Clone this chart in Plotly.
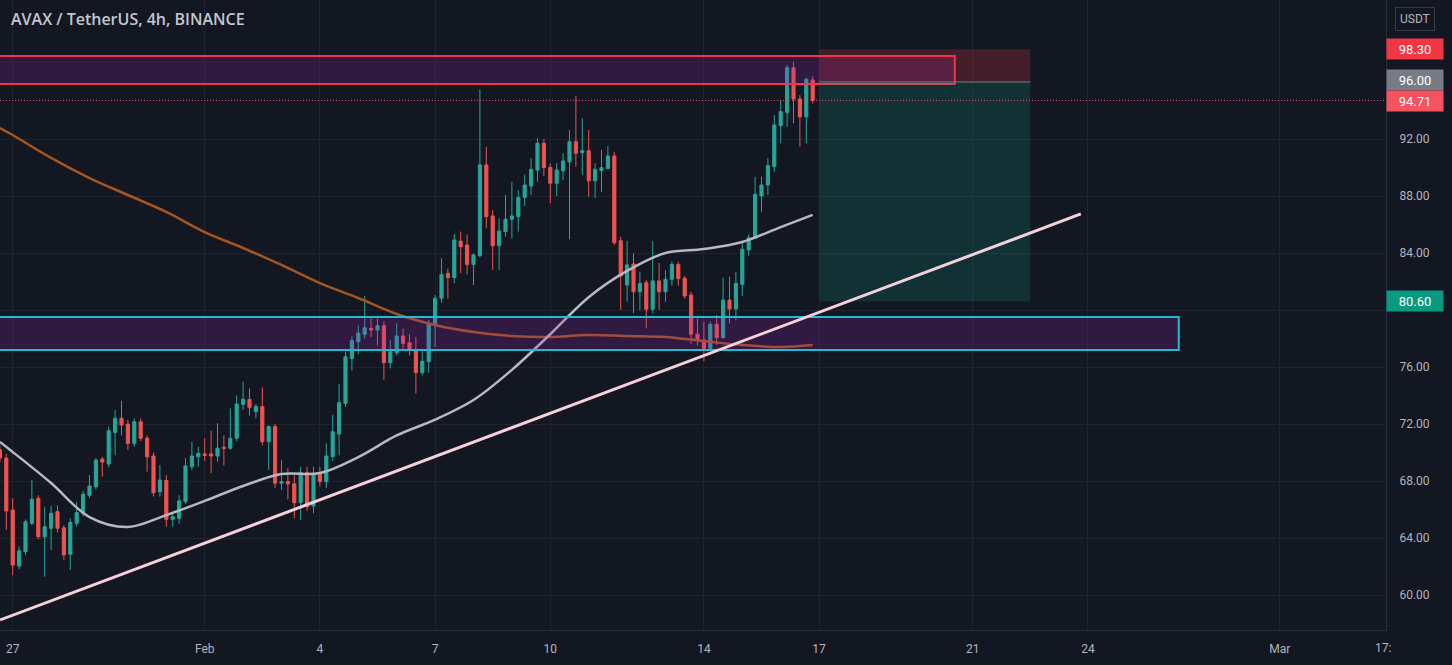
import plotly.graph_objects as go
from datetime import datetime, timedelta

# ---------------- data ----------------
first_bar = datetime(2022, 1, 26, 16, 0)   # 4h bars
opens = [70.2, 69.61, 65.96, 62.03, 63.04, 65.03, 66.79, 64.09, 64.68, 65.85, 64.72, 62.86, 65.03, 65.73, 67.0, 67.6,
         69.54, 69.19, 71.4, 72.4, 72.0, 70.64, 72.16, 71.0, 69.75, 67.25, 68.03, 65.31, 65.38, 66.55, 69.0, 69.7,
         69.9, 69.9, 69.75, 70.37, 70.3, 71.0, 73.38, 73.73, 72.87, 73.22, 70.76, 71.82, 67.84, 67.96, 67.8, 66.48,
         68.58, 66.25, 68.47, 67.96, 69.72, 71.3, 73.45, 76.6, 77.78, 78.3, 78.72, 78.6, 78.9, 76.3, 77.0, 78.18,
         77.7, 77.15, 75.6, 76.37, 78.95, 80.82, 82.57, 82.27, 84.84, 84.56, 83.2, 83.81, 90.18, 86.6, 84.51, 85.5,
         86.37, 86.55, 87.9, 88.7, 89.82, 91.7, 90.0, 88.9, 89.77, 90.4, 91.81, 91.04, 91.18, 89.07, 89.78, 89.92,
         90.81, 84.86, 81.75, 83.23, 81.28, 81.92, 80.05, 82.04, 81.28, 82.15, 83.2, 82.23, 81.05, 78.3, 77.9, 77.31,
         79.0, 78.06, 80.7, 80.07, 81.8, 84.21, 85.03, 88.0, 88.77, 90.06, 92.93, 93.87, 97.0, 94.81, 93.56, 96.14]
highs = [70.5, 69.9, 66.8, 63.4, 65.3, 68.07, 67.0, 66.2, 66.27, 66.27, 64.9, 65.38, 66.55, 67.3, 68.42, 69.6,
         69.7, 71.82, 72.98, 73.63, 72.28, 72.4, 72.4, 71.2, 70.0, 69.12, 68.42, 65.75, 67.0, 69.6, 70.76, 70.4,
         71.0, 71.53, 72.05, 71.2, 73.1, 74.0, 74.97, 74.5, 73.4, 74.57, 71.9, 72.0, 69.47, 68.9, 68.42, 69.0,
         69.0, 69.0, 69.0, 70.64, 72.63, 74.8, 77.1, 78.13, 78.9, 80.98, 79.4, 79.4, 79.2, 77.9, 79.07, 78.7,
         78.3, 78.1, 77.1, 79.3, 81.05, 83.63, 82.9, 85.33, 85.5, 85.3, 83.98, 95.49, 91.46, 87.0, 86.44, 88.07,
         89.0, 88.4, 89.5, 90.65, 92.05, 92.0, 90.3, 90.3, 91.0, 92.63, 95.02, 93.45, 92.63, 90.3, 91.23, 91.5,
         91.1, 85.14, 84.86, 83.98, 82.69, 82.1, 84.84, 83.3, 82.8, 83.4, 83.4, 82.4, 81.28, 79.4, 79.18, 79.2,
         79.65, 82.27, 82.34, 82.69, 84.7, 85.3, 89.35, 89.35, 90.65, 93.68, 94.74, 97.19, 97.42, 95.09, 96.3, 96.4]
lows = [69.3, 64.56, 61.4, 61.8, 62.8, 64.9, 63.9, 61.28, 63.16, 64.4, 62.46, 61.75, 64.8, 65.5, 66.8, 67.4,
        68.3, 68.96, 69.8, 71.2, 70.18, 70.4, 70.8, 68.66, 66.9, 66.9, 64.79, 64.8, 65.0, 66.4, 68.77, 69.0,
        69.4, 68.54, 69.35, 69.1, 70.2, 70.8, 72.98, 72.6, 72.4, 70.5, 68.77, 67.49, 67.37, 66.7, 65.38, 65.26,
        65.9, 65.73, 67.6, 67.5, 69.4, 69.8, 73.2, 75.74, 76.9, 78.0, 78.1, 77.5, 75.1, 75.9, 76.8, 77.2,
        76.8, 74.15, 75.4, 75.6, 77.4, 80.5, 80.8, 81.88, 82.6, 82.5, 81.75, 83.7, 85.73, 82.8, 82.8, 85.14,
        85.0, 85.5, 87.3, 88.07, 89.0, 89.4, 87.5, 88.0, 89.1, 84.96, 90.05, 89.47, 87.96, 87.85, 88.3, 89.9,
        84.56, 80.0, 80.58, 79.77, 80.0, 78.72, 79.77, 80.0, 80.58, 81.7, 81.7, 80.8, 77.6, 77.5, 76.4, 77.1,
        77.54, 78.0, 79.07, 79.3, 81.0, 83.8, 84.98, 86.88, 88.07, 89.7, 91.7, 92.86, 93.1, 91.46, 91.7, 94.5]
closes = [69.6, 65.9, 62.1, 63.1, 65.14, 66.72, 64.09, 64.79, 65.73, 64.68, 62.81, 65.1, 65.78, 67.07, 67.65, 69.47,
          69.33, 71.53, 72.4, 71.93, 70.64, 72.16, 71.0, 69.7, 67.18, 68.07, 65.31, 65.5, 66.6, 69.05, 69.75, 69.94,
          69.8, 69.75, 70.3, 70.3, 71.0, 73.4, 73.73, 73.15, 73.22, 70.76, 71.82, 67.84, 67.96, 67.8, 66.48, 68.58,
          66.2, 68.47, 67.96, 69.75, 71.46, 73.5, 76.72, 77.85, 78.37, 78.76, 78.6, 78.9, 76.3, 77.07, 78.18, 77.66,
          77.2, 75.6, 76.4, 79.07, 80.82, 82.5, 82.27, 84.91, 84.44, 83.2, 83.86, 90.18, 86.55, 84.51, 85.54, 86.37,
          86.6, 87.9, 88.77, 89.87, 91.7, 90.0, 88.9, 89.82, 90.46, 91.81, 91.0, 91.18, 89.07, 89.87, 89.99, 90.81,
          84.72, 82.39, 83.16, 81.28, 81.87, 80.05, 82.04, 81.28, 82.15, 83.2, 82.2, 80.98, 78.3, 77.9, 77.31, 79.0,
          78.06, 80.7, 80.07, 81.87, 84.26, 85.07, 88.12, 88.77, 90.13, 92.98, 93.92, 97.0, 94.81, 93.56, 96.19, 94.71]

# moving averages sampled once a day
ma_dates = ["2022-01-26 16:00", "2022-01-27", "2022-01-28", "2022-01-29", "2022-01-30", "2022-01-31", "2022-02-01",
            "2022-02-02", "2022-02-03", "2022-02-04", "2022-02-05", "2022-02-06", "2022-02-07", "2022-02-08",
            "2022-02-09", "2022-02-10", "2022-02-11", "2022-02-12", "2022-02-13", "2022-02-14", "2022-02-15",
            "2022-02-16", "2022-02-16 20:00"]
ma_fast = [70.74, 70.04, 67.86, 65.47, 64.77, 65.61, 66.60, 67.65, 68.49, 68.56, 69.68, 71.2, 72.3, 73.68,
           75.8, 78.3, 80.9, 82.74, 84.0, 84.28, 84.77, 85.82, 86.67]
ma_slow = [92.77, 92.28, 90.67, 89.26, 88.07, 86.88, 85.47, 84.35, 83.16, 81.89, 80.84, 79.72, 78.95, 78.46,
           78.18, 78.11, 78.25, 78.18, 78.11, 77.82, 77.54, 77.40, 77.54]

# drawings
resist_zone = dict(x0="2022-01-20", x1="2022-02-20 12:48", low=95.86, high=97.82)
support_zone = dict(x0="2022-01-20", x1="2022-02-26 08:48", low=77.19, high=79.51)
trend_line = dict(x=["2022-01-26 16:08", "2022-02-23 19:36"], y=[58.25, 86.74])
position = dict(x0="2022-02-17 00:00", x1="2022-02-22 12:00", stop=98.30, entry=96.00, target=80.60)
last_price = 94.71

x_ticks = ["2022-01-27", "2022-02-01", "2022-02-04", "2022-02-07", "2022-02-10", "2022-02-14",
           "2022-02-17", "2022-02-21", "2022-02-24", "2022-03-01"]
x_tick_text = ["27", "Feb", "4", "7", "10", "14", "17", "21", "24", "Mar"]
y_ticks = [60, 64, 68, 72, 76, 80, 84, 88, 92]
y_tick_text = ["60.00", "64.00", "68.00", "72.00", "76.00", "", "84.00", "88.00", "92.00"]

# ---------------- figure ----------------
BG = "#131722"
GRID = "#1f2330"
TXT = "#b2b5be"
UP, DOWN = "#26a69a", "#ef5350"

times = [first_bar + timedelta(hours=4 * i) for i in range(len(opens))]

fig = go.Figure()
fig.add_trace(go.Scatter(x=ma_dates, y=ma_slow, mode="lines", line=dict(color="#a5561f", width=2.5, shape="spline"),
                         hoverinfo="skip"))
fig.add_trace(go.Scatter(x=ma_dates, y=ma_fast, mode="lines", line=dict(color="#b7b9c0", width=2.5, shape="spline"),
                         hoverinfo="skip"))
fig.add_trace(go.Candlestick(x=times, open=opens, high=highs, low=lows, close=closes,
                             increasing=dict(line=dict(color=UP, width=1), fillcolor=UP),
                             decreasing=dict(line=dict(color=DOWN, width=1), fillcolor=DOWN),
                             whiskerwidth=0))

PURPLE = "rgba(156,39,176,0.22)"
# resistance zone
fig.add_shape(type="rect", xref="x", yref="y", x0=resist_zone["x0"], x1=resist_zone["x1"],
              y0=resist_zone["low"], y1=resist_zone["high"], fillcolor=PURPLE,
              line=dict(color="#f23645", width=2))
# support zone
fig.add_shape(type="rect", xref="x", yref="y", x0=support_zone["x0"], x1=support_zone["x1"],
              y0=support_zone["low"], y1=support_zone["high"], fillcolor=PURPLE,
              line=dict(color="#1fbcd2", width=2))
# short position tool
fig.add_shape(type="rect", xref="x", yref="y", x0=position["x0"], x1=position["x1"],
              y0=position["entry"], y1=position["stop"], fillcolor="rgba(242,54,69,0.22)", line=dict(width=0))
fig.add_shape(type="rect", xref="x", yref="y", x0=position["x0"], x1=position["x1"],
              y0=position["target"], y1=position["entry"], fillcolor="rgba(8,153,129,0.2)", line=dict(width=0))
fig.add_shape(type="line", xref="x", yref="y", x0=position["x0"], x1=position["x1"],
              y0=position["entry"], y1=position["entry"], line=dict(color="#787b86", width=1))
# last price dotted line
fig.add_shape(type="line", xref="paper", yref="y", x0=0, x1=1, y0=last_price, y1=last_price,
              line=dict(color="#f7525f", width=1, dash="1px,2px"))
# trend line
fig.add_shape(type="line", xref="x", yref="y", x0=trend_line["x"][0], x1=trend_line["x"][1],
              y0=trend_line["y"][0], y1=trend_line["y"][1], line=dict(color="#f6d0da", width=3))

fig.update_layout(
    width=1452, height=665,
    margin=dict(l=0, r=66, t=0, b=35),
    paper_bgcolor=BG, plot_bgcolor=BG,
    showlegend=False,
    font=dict(family="Roboto, DejaVu Sans, sans-serif", color=TXT, size=12),
    xaxis=dict(type="date", range=["2022-01-26 16:04", "2022-03-03 18:19"],
               tickvals=x_ticks, ticktext=x_tick_text, showgrid=True, gridcolor=GRID, gridwidth=1,
               zeroline=False, showline=True, linecolor="#2a2e39", linewidth=1,
               ticks="", ticklabelstandoff=8, rangeslider=dict(visible=False),
               tickfont=dict(color=TXT, size=12)),
    yaxis=dict(side="right", range=[57.544, 101.754], tickvals=y_ticks, ticktext=y_tick_text,
               showgrid=True, gridcolor=GRID, gridwidth=1, zeroline=False,
               showline=True, linecolor="#2a2e39", linewidth=1, ticks="", ticklabelstandoff=10,
               tickfont=dict(color=TXT, size=12)),
)

# title
fig.add_annotation(xref="paper", yref="paper", x=0, y=1, xanchor="left", yanchor="middle",
                   xshift=9, yshift=-19, showarrow=False, text="AVAX / TetherUS, 4h, BINANCE",
                   font=dict(size=16, color="#c3c6ce", family="Open Sans, sans-serif", weight=600))

# currency badge
fig.add_annotation(xref="paper", yref="paper", x=1, y=1, xanchor="left", yanchor="middle",
                   xshift=9, yshift=-19, showarrow=False, text="USDT", bgcolor=BG,
                   bordercolor="#363a45", borderwidth=1, borderpad=4,
                   font=dict(size=12, color=TXT))

# price badges on the axis
def badge(val, color, yshift=0):
    fig.add_annotation(xref="paper", yref="y", x=1, y=val, xanchor="left", yanchor="middle",
                       xshift=0, yshift=yshift, showarrow=False, text=f"{val:.2f}",
                       bgcolor=color, width=52, height=16, borderpad=2,
                       font=dict(size=13, color="#ffffff"))

badge(position["stop"], "#f23645")
badge(position["entry"], "#787b86", 2)
badge(last_price, "#f7525f", -1)
badge(position["target"], "#089981")

# clipped time label at right edge
fig.add_annotation(xref="paper", yref="paper", x=1, y=0, xanchor="center", yanchor="top",
                   xshift=-3, yshift=-9, showarrow=False, text="17:", font=dict(size=12, color=TXT))

fig.write_html("out.html")
